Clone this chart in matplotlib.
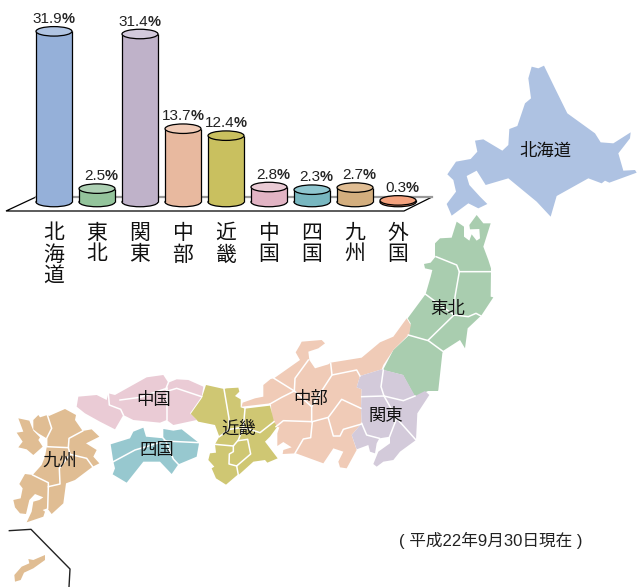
import matplotlib
matplotlib.use('Agg')
import matplotlib.pyplot as plt
from matplotlib.patches import Ellipse, Polygon

plt.rcParams['font.family'] = ['Liberation Sans', 'Noto Sans CJK JP', 'DejaVu Sans']

# datos de las barras
regiones = ['北海道', '東北', '関東', '中部', '近畿', '中国', '四国', '九州', '外国']
valores = [31.9, 2.5, 31.4, 13.7, 12.4, 2.8, 2.3, 2.7, 0.3]
col_cuerpo = ['#95b0d9', '#93c49b', '#bfb2c9', '#e8b99f', '#c9c05f', '#e2b4c4', '#78b7c0', '#d3ae7e', '#ef9068']
col_tapa = ['#b0c4e2', '#add0b3', '#d3cadc', '#f0cbb7', '#c9c05f', '#eacbd5', '#8fc6cf', '#e0bd93', '#f4a27e']

# colores del mapa
c_hokkaido = '#aec2e2'
c_tohoku = '#a9cdaf'
c_kanto = '#d3cada'
c_chubu = '#f0cbb7'
c_kinki = '#cfc773'
c_chugoku = '#eacbd5'
c_shikoku = '#97c8cf'
c_kyushu = '#e0bd93'

z2 = (340, 50)
z3 = (180, 310)
z4 = (0, 360)

hokkaido = [(575,50),(595,55),(612,47),(645,115),(682,190),(765,250),(782,277),(820,280),(872,247),(870,265),(835,310),(850,362),(885,360),(890,368),(808,398),(795,392),(785,400),(745,385),(650,438),(632,500),(590,455),(505,385),(437,405),(410,362),(380,378),(388,405),(420,440),(442,462),(415,475),(385,460),(335,497),(320,462),(348,425),(340,390),(322,373),(348,335),(392,327),(412,305),(405,272),(430,268),(487,302),(505,285),(508,237),(532,228),(555,160),(573,145),(565,85)]

tohoku = [(350,515),(372,530),(372,560),(388,572),(395,553),(410,572),(420,565),(418,537),(390,538),(388,525),(410,495),(430,520),(452,520),(430,590),(445,630),(453,655),(452,740),(460,742),(423,798),(420,800),(383,835),(375,895),(360,870),(310,902),(307,910),(295,1020),(294,1023),(264,1023),(225,1041),(189,975),(129,960),(160,900),(205,858),(212,820),(203,805),(257,732),(272,680),(277,660),(255,655),(252,642),(272,638),(285,622),(285,580),(300,565),(335,563)]
tohoku_div = [
    [(288,620),(350,645),(358,665),(452,665)],
    [(358,665),(345,740),(342,795)],
    [(257,733),(300,765),(342,795)],
    [(342,795),(385,800),(408,790),(423,798)],
    [(342,795),(265,870)],
    [(205,855),(265,872),(310,905)],
]

chubu = [(680,25),(692,45),(688,72),(640,120),(610,165),(605,178),(540,198),(530,232),(545,238),(543,295),(545,340),(515,375),(530,420),(500,475),(480,472),(475,455),(490,425),(460,415),(430,460),(348,430),(308,432),(310,420),(335,412),(310,396),(292,408),(292,370),(298,352),(288,350),(275,320),(273,285),(270,280),(185,290),(188,278),(225,265),(250,260),(250,225),(272,207),(282,205),(360,150),(347,127),(360,105),(365,95),(425,90),(435,100),(415,115),(385,125),(388,150),(405,175),(445,163),(452,158),(545,143),(600,97),(640,80)]
chubu_div = [
    [(385,150),(345,205),(343,243)],
    [(282,205),(343,243),(305,262),(270,282)],
    [(343,243),(395,290),(395,335)],
    [(452,160),(456,195),(430,235),(395,290)],
    [(456,195),(530,180),(540,198)],
    [(288,350),(310,332),(397,335),(392,383),(370,387),(345,430)],
    [(397,335),(445,322),(485,268),(543,295)],
    [(445,325),(460,378),(480,378),(490,358),(545,342)],
]

kanto = [(530,232),(540,198),(605,178),(670,195),(705,258),(735,243),(748,255),(712,310),(708,390),(660,425),(640,450),(610,455),(590,470),(580,462),(595,425),(630,400),(630,380),(598,385),(590,400),(585,430),(570,425),(565,405),(530,418),(515,375),(545,340),(543,295),(545,238)]
kanto_div = [
    [(610,180),(603,230),(612,258)],
    [(545,260),(612,258),(670,272),(705,258)],
    [(612,258),(650,325),(628,382)],
    [(650,325),(708,390)],
    [(545,340),(560,375),(598,385)],
]

kinki = [(32,312),(65,265),(78,225),(132,237),(140,235),(175,233),(178,245),(165,258),(182,268),(182,292),(195,296),(270,287),(282,335),(292,350),(270,380),(255,395),(293,445),(262,458),(255,450),(220,455),(178,493),(172,495),(138,524),(108,505),(95,475),(103,470),(85,450),(90,430),(108,428),(105,403),(118,380),(105,345),(55,335)]
kinki_div = [
    [(132,237),(147,325),(148,358)],
    [(195,296),(190,352)],
    [(190,352),(240,368),(282,335)],
    [(118,380),(148,358),(190,352),(175,390),(160,408),(105,403)],
    [(175,392),(203,388),(212,432),(170,468),(147,462),(148,432),(160,425),(160,408)],
    [(170,468),(175,495)],
]

chugoku = [(230,140),(235,110),(290,105),(320,120),(325,100),(345,105),(440,52),(490,45),(505,68),(530,58),(565,60),(610,80),(605,110),(570,160),(590,180),(520,195),(500,180),(480,188),(400,180),(370,165),(345,208),(300,185),(255,160)]
chugoku_div = [
    [(325,100),(328,135),(362,148),(370,165)],
    [(360,120),(420,112),(500,85)],
    [(500,85),(500,180)],
    [(497,95),(530,85),(605,110)],
    [(505,68),(497,88)],
]

shikoku = [(332,253),(390,235),(400,215),(430,203),(438,230),(490,235),(490,207),(520,212),(545,208),(592,245),(597,250),(590,290),(535,313),(515,342),(480,305),(430,305),(380,368),(338,343),(345,325),(340,305)]
shikoku_div = [
    [(340,305),(405,270),(495,243),(597,248)],
    [(490,235),(497,243)],
    [(497,243),(520,297),(535,313)],
]

kyushu = [(147,168),(195,147),(228,165),(225,180),(248,213),(275,208),(298,230),(258,250),(290,270),(280,290),(298,310),(278,320),(225,360),(198,370),(190,430),(155,462),(142,445),(128,450),(135,455),(130,470),(80,487),(95,455),(100,425),(118,420),(130,412),(105,402),(88,420),(78,462),(60,460),(45,442),(40,420),(62,415),(68,385),(58,372),(75,342),(98,345),(125,315),(135,290),(140,262),(140,235),(135,232),(115,220),(100,208),(100,180),(115,165),(120,172),(142,165)]
kyushu_div = [
    [(142,165),(155,205),(140,235),(140,258)],
    [(140,260),(205,263)],
    [(248,213),(207,235),(205,263),(210,283),(260,295),(278,320)],
    [(210,283),(178,325),(180,372),(145,380),(143,445)],
    [(98,345),(145,368),(145,380)],
]
nagasaki = [(55,175),(88,182),(100,212),(120,232),(115,240),(128,260),(100,285),(80,268),(55,262),(68,245),(50,218),(70,215)]
okinawa = [(135,585),(135,600),(100,625),(72,638),(62,660),(45,665),(43,645),(65,620),(88,610),(85,597),(100,600)]
recuadro = [(28,512),(93,508),(210,627),(207,681)]

capas = [
    (hokkaido, [], z2, c_hokkaido),
    (tohoku, tohoku_div, z2, c_tohoku),
    (chubu, chubu_div, z3, c_chubu),
    (kanto, kanto_div, z3, c_kanto),
    (kinki, kinki_div, z3, c_kinki),
    (chugoku, chugoku_div, z4, c_chugoku),
    (shikoku, shikoku_div, z4, c_shikoku),
    (kyushu, kyushu_div, z4, c_kyushu),
    (nagasaki, [], z4, c_kyushu),
    (okinawa, [], z4, c_kyushu),
]

nombres = ['北海道', '東北', '関東', '中部', '近畿', '中国', '四国', '九州']
nombres_x = [545, 448, 386, 311, 239, 154, 157, 60]
nombres_y = [151, 309, 416, 399, 429, 400, 451, 461]


def pix(pts, origen):
    return [(origen[0] + x / 3, origen[1] + y / 3) for x, y in pts]


fig = plt.figure(figsize=(6.41, 5.87), dpi=100)

# mapa y plataforma en pixeles
mapa = fig.add_axes([0, 0, 1, 1])
mapa.set_xlim(0, 641)
mapa.set_ylim(587, 0)
mapa.axis('off')

for pts, divs, origen, color in capas:
    mapa.add_patch(Polygon(pix(pts, origen), closed=True, facecolor=color, edgecolor='none'))
    for d in divs:
        dx, dy = zip(*pix(d, origen))
        mapa.plot(dx, dy, color='white', linewidth=1.1, solid_joinstyle='round')

rx, ry = zip(*pix(recuadro, z4))
mapa.plot(rx, ry, color='#222222', linewidth=1, clip_on=False)

mapa.add_patch(Polygon([(6, 211), (404, 211), (432, 197), (36, 197)], closed=True,
                       facecolor='white', edgecolor='black', linewidth=0.9))
mapa.plot([36, 432], [197, 197], color='#999999', linewidth=1.6)

for n, x, y in zip(nombres, nombres_x, nombres_y):
    mapa.text(x, y, n, fontsize=12.5, ha='center', va='center', color='#111111')

mapa.text(491, 540, '( 平成22年9月30日現在 )', fontsize=12, ha='center', va='center', color='#222222')

# barras: x = indice, y = porcentaje
ax = fig.add_axes([0, 0, 1, 1])
ax.patch.set_alpha(0)
ax.axis('off')
paso = 43
esc = 5.35
ax.set_xlim(-54 / paso, (641 - 54) / paso)
ax.set_ylim((202 - 587) / esc, 202 / esc)

ancho = 36 / paso
alto_elipse = 9.5 / esc
for i, v in enumerate(valores):
    ax.add_patch(Ellipse((i, 0), ancho, alto_elipse, facecolor=col_cuerpo[i], edgecolor='black', linewidth=0.9, zorder=2))
    ax.bar(i, v, width=ancho, color=col_cuerpo[i], linewidth=0, zorder=3)
    ax.vlines([i - ancho / 2, i + ancho / 2], 0, v, color='black', linewidth=0.9, zorder=4)
    ax.add_patch(Ellipse((i, v), ancho, alto_elipse, facecolor=col_tapa[i], edgecolor='black', linewidth=0.9, zorder=5))
    # numero normal y % en negrita, como en el original
    ax.annotate('%.1f' % v, (i, v), xytext=(6, 9), textcoords='offset points',
                ha='right', va='center', fontsize=11, color='#222222')
    ax.annotate('%', (i, v), xytext=(5.5, 9), textcoords='offset points',
                ha='left', va='center', fontsize=10.5, fontweight='bold', color='#222222')
    ax.annotate('\n'.join(regiones[i]), (i, 0), xytext=(0, -15.5), textcoords='offset points',
                ha='center', va='top', fontsize=15, linespacing=1.16, color='#111111')

fig.savefig('out.png', dpi=100)
